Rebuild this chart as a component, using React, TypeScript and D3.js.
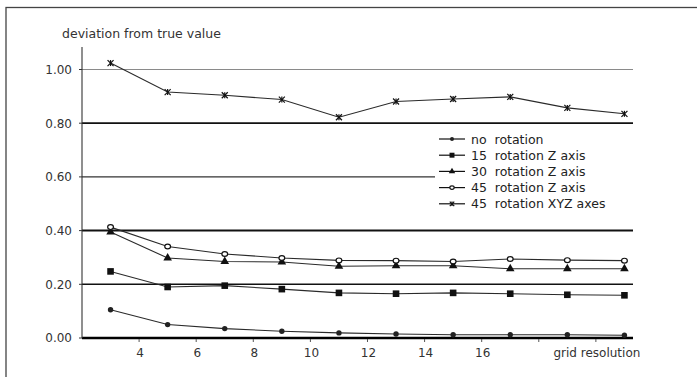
import React from 'react';
import * as d3 from 'd3';

// values
const gridRes = [3, 5, 7, 9, 11, 13, 15, 17, 19, 21];
const noRotation = [0.105, 0.05, 0.035, 0.025, 0.019, 0.015, 0.012, 0.012, 0.012, 0.01];
const rotZ15 = [0.248, 0.19, 0.195, 0.182, 0.168, 0.165, 0.168, 0.165, 0.161, 0.159];
const rotZ30 = [0.395, 0.298, 0.285, 0.283, 0.267, 0.269, 0.269, 0.258, 0.258, 0.258];
const rotZ45 = [0.413, 0.341, 0.313, 0.298, 0.289, 0.288, 0.285, 0.294, 0.29, 0.288];
const rotXYZ45 = [1.024, 0.916, 0.904, 0.888, 0.822, 0.881, 0.89, 0.898, 0.857, 0.835];

const seriesNames = ['no  rotation', '15  rotation Z axis', '30  rotation Z axis', '45  rotation Z axis', '45  rotation XYZ axes'];
const seriesMarkers = ['dot', 'square', 'triangle', 'ring', 'star'];
const yTicks = [0, 0.2, 0.4, 0.6, 0.8, 1.0];
const xTicks = [4, 6, 8, 10, 12, 14, 16, 18, 20];
const xTickLabels = ['4', '6', '8', '10', '12', '14', '16', '', 'grid resolution'];
const yTitle = 'deviation from true value';

const FONT = '"DejaVu Sans", Arial, sans-serif';
const INK = '#222';

function Marker({ kind, x, y, s = 1 }: { kind: string; x: number; y: number; s?: number }) {
  if (kind === 'dot') return <circle cx={x} cy={y} r={2.7 * s} fill={INK} />;
  if (kind === 'square') return <rect x={x - 3.3 * s} y={y - 3.3 * s} width={6.6 * s} height={6.6 * s} fill="#111" />;
  if (kind === 'triangle') {
    let p = d3.symbol().type(d3.symbolTriangle).size(32 * s * s)();
    return <path d={p || ''} transform={`translate(${x},${y})`} fill="#111" />;
  }
  if (kind === 'ring') return <ellipse cx={x} cy={y} rx={2.9 * s} ry={2.4 * s} fill="#fff" stroke="#111" strokeWidth={1.2} />;
  let r = 3 * s;
  return (
    <g stroke="#111" strokeWidth={1.2}>
      <line x1={x - r} y1={y - r} x2={x + r} y2={y + r} />
      <line x1={x - r} y1={y + r} x2={x + r} y2={y - r} />
      <line x1={x} y1={y - r} x2={x} y2={y + r} />
    </g>
  );
}

function gridStyle(v: number) {
  if (v > 0.9) return { stroke: '#8a8a8a', w: 1.2 };
  if (v > 0.7) return { stroke: '#111', w: 1.7 };
  if (v > 0.5) return { stroke: '#333', w: 1.1 };
  if (v > 0.3) return { stroke: '#111', w: 2 };
  if (v > 0.1) return { stroke: '#111', w: 1.5 };
  return { stroke: '#000', w: 2.6 };
}

export default function App() {
  let width = 697, height = 377;
  let plot = { left: 82, right: 633, top: 47, bottom: 338 };

  let x = d3.scaleLinear().domain([2, 21.3]).range([plot.left, plot.right]);
  let y = d3.scaleLinear().domain([0, 1]).range([plot.bottom, 69.5]);

  let series = [noRotation, rotZ15, rotZ30, rotZ45, rotXYZ45];
  let line = d3.line<number>()
    .x((d, i) => x(gridRes[i]))
    .y(d => y(d));

  let legend = { x1: 439, x2: 465, top: 139, step: 16.2 };

  return (
    <svg width={width} height={height} style={{ position: 'absolute', left: 0, top: 0, background: '#fff' }}>
      <rect x={6} y={7.5} width={width + 10} height={height + 10} fill="#fff" stroke="#444" strokeWidth={1.3} />

      <text x={62} y={38} fontFamily={FONT} fontSize={12.5} fill="#333">{yTitle}</text>

      {/* gridlines + y ticks */}
      {yTicks.map(v => {
        let g = gridStyle(v);
        return (
          <g key={v}>
            <line x1={plot.left} x2={plot.right} y1={y(v)} y2={y(v)} stroke={g.stroke} strokeWidth={g.w} />
            <line x1={plot.left - 3} x2={plot.left} y1={y(v)} y2={y(v)} stroke="#333" strokeWidth={1} />
            <text x={72} y={y(v)} dy="0.36em" textAnchor="end" fontFamily={FONT} fontSize={12} fill="#333">
              {d3.format('.2f')(v)}
            </text>
          </g>
        );
      })}

      {/* y axis */}
      <line x1={plot.left} x2={plot.left} y1={plot.top} y2={plot.bottom} stroke="#333" strokeWidth={1.1} />

      {/* x ticks */}
      {xTicks.map((t, i) => (
        <g key={t}>
          <line x1={x(t)} x2={x(t)} y1={plot.bottom + 1} y2={plot.bottom + 4} stroke="#555" strokeWidth={1} />
          <text x={x(t) + 1} y={357} textAnchor="middle" fontFamily={FONT} fontSize={12} fill="#333">
            {xTickLabels[i]}
          </text>
        </g>
      ))}

      {/* series */}
      {series.map((vals, si) => (
        <g key={si}>
          <path d={line(vals) || ''} fill="none" stroke="#2a2a2a" strokeWidth={1.1} />
          {vals.map((v, i) => (
            <Marker key={i} kind={seriesMarkers[si]} x={x(gridRes[i])} y={y(v)} />
          ))}
        </g>
      ))}

      {/* legend */}
      <rect x={435} y={129} width={200} height={84} fill="#fff" />
      {seriesNames.map((name, i) => {
        let ly = legend.top + i * legend.step;
        return (
          <g key={name}>
            <line x1={legend.x1} x2={legend.x2} y1={ly} y2={ly} stroke="#111" strokeWidth={1.2} />
            <Marker kind={seriesMarkers[i]} x={(legend.x1 + legend.x2) / 2} y={ly} s={0.75} />
            <text x={471} y={ly} dy="0.36em" fontFamily={FONT} fontSize={12.5} fill="#222" style={{ whiteSpace: 'pre' }}>
              {name}
            </text>
          </g>
        );
      })}
    </svg>
  );
}
